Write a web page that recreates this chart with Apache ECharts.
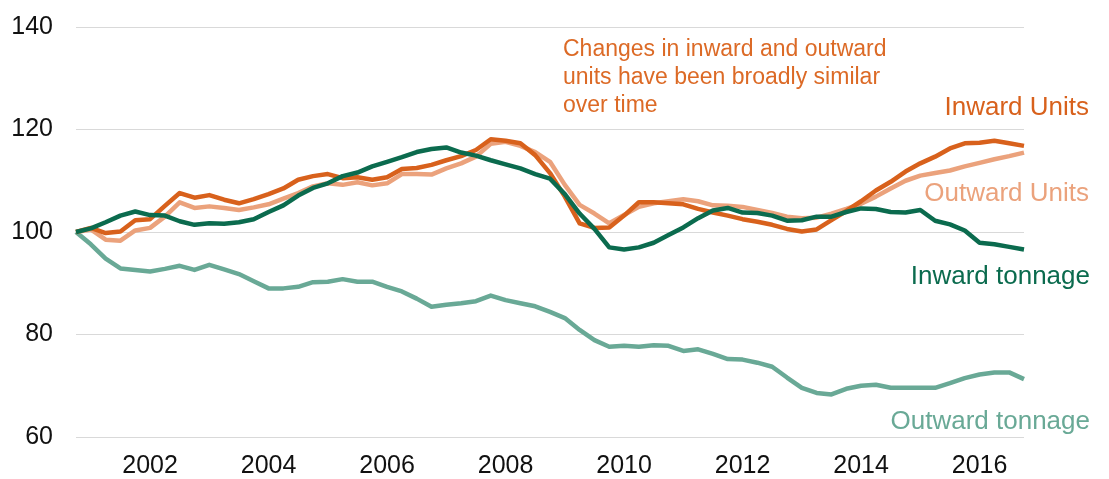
<!DOCTYPE html>
<html>
<head>
<meta charset="utf-8">
<script src="https://cdn.jsdelivr.net/npm/echarts@6/dist/echarts.min.js"></script>
<style>html,body{margin:0;padding:0;background:#fff;}#c{width:1109px;height:479px;}</style>
</head>
<body>
<div id="c"></div>
<script>
// Quarterly categories, 2000 Q4 .. 2016 Q4
var categories = [];
(function(){
  categories.push('2000 Q4');
  for (var y = 2001; y <= 2016; y++) for (var q = 1; q <= 4; q++) categories.push(y + ' Q' + q);
})();
var tickLabels = ['2002','2004','2006','2008','2010','2012','2014','2016'];
var yTicks = [60, 80, 100, 120, 140];

var inwardUnits = [100,100.8,99.8,100.1,102.3,102.5,105.1,107.6,106.7,107.2,106.3,105.6,106.4,107.4,108.5,110.2,110.9,111.3,110.5,110.7,110.2,110.7,112.3,112.5,113.1,114.0,114.8,116.0,118.1,117.8,117.3,115.0,111.5,106.9,101.7,100.8,100.9,103.2,105.8,105.8,105.6,105.4,104.5,103.8,103.2,102.5,102.0,101.4,100.6,100.1,100.5,102.3,104.1,106.0,108.1,109.8,111.8,113.4,114.7,116.3,117.3,117.4,117.8,117.3,116.8];
var outwardUnits = [100,100.5,98.5,98.3,100.3,100.8,103.0,105.8,104.7,105.0,104.7,104.3,104.8,105.4,106.5,107.6,108.9,109.5,109.2,109.7,109.1,109.5,111.3,111.3,111.2,112.4,113.4,114.7,117.2,117.6,116.8,115.6,113.7,109.2,105.3,103.6,101.7,103.3,104.9,105.6,106.0,106.4,106.0,105.2,105.1,104.9,104.3,103.7,103.0,102.7,102.8,103.6,104.5,105.5,106.9,108.5,110.0,111.0,111.5,112.0,112.8,113.5,114.2,114.8,115.5];
var inwardTonnage = [100,100.7,101.9,103.2,104.0,103.3,103.2,102.1,101.4,101.7,101.6,101.9,102.5,103.9,105.2,107.1,108.6,109.5,110.9,111.6,112.8,113.7,114.6,115.6,116.2,116.5,115.5,114.9,114.0,113.2,112.4,111.3,110.4,107.4,103.6,100.6,97.0,96.6,97.0,97.9,99.4,100.9,102.7,104.2,104.7,103.8,103.7,103.2,102.2,102.3,103.0,103.0,103.9,104.6,104.5,103.9,103.8,104.3,102.2,101.5,100.3,97.9,97.6,97.1,96.6];
var outwardTonnage = [100,97.6,94.8,92.9,92.6,92.3,92.8,93.4,92.6,93.6,92.7,91.8,90.4,89.0,89.0,89.3,90.2,90.3,90.8,90.3,90.3,89.3,88.4,87.0,85.4,85.8,86.1,86.5,87.6,86.7,86.1,85.5,84.4,83.2,80.9,78.9,77.6,77.8,77.6,77.9,77.8,76.8,77.1,76.2,75.2,75.1,74.5,73.7,71.6,69.6,68.6,68.3,69.4,70.0,70.2,69.6,69.6,69.6,69.6,70.5,71.5,72.2,72.6,72.6,71.3];

var C_IU = '#D8611C', C_OU = '#EBA27C', C_IT = '#0B6B4E', C_OT = '#69A996';
var FONT = '"Liberation Sans", Arial, sans-serif';

var chart = echarts.init(document.getElementById('c'), null, {renderer: 'canvas'});
function line(name, data, color) {
  return {name: name, type: 'line', data: data, symbol: 'none', smooth: false,
    lineStyle: {color: color, width: 4.5, join: 'round'}, itemStyle: {color: color}, animation: false};
}
chart.setOption({
  animation: false,
  backgroundColor: '#fff',
  grid: {left: 76, right: 85, top: 27, bottom: 42},
  xAxis: {
    type: 'category', data: categories, boundaryGap: false,
    axisLine: {show: false}, axisTick: {show: false}, splitLine: {show: false},
    axisLabel: {
      interval: function (i, v) { return /Q1$/.test(v) && tickLabels.indexOf(v.slice(0,4)) >= 0; },
      formatter: function (v) { return v.slice(0,4); },
      color: '#111', fontSize: 25, fontFamily: FONT, margin: 17
    }
  },
  yAxis: {
    type: 'value', min: yTicks[0], max: yTicks[yTicks.length-1], interval: 20,
    axisLine: {show: false}, axisTick: {show: false},
    splitLine: {lineStyle: {color: '#D9D9D9', width: 1}},
    axisLabel: {color: '#111', fontSize: 25, fontFamily: FONT, margin: 23}
  },
  series: [
    line('Outward tonnage', outwardTonnage, C_OT),
    line('Outward Units', outwardUnits, C_OU),
    line('Inward Units', inwardUnits, C_IU),
    line('Inward tonnage', inwardTonnage, C_IT)
  ],
  graphic: [
    {type: 'text', left: 563, top: 36, style: {text: 'Changes in inward and outward\nunits have been broadly similar\nover time', fill: '#DC6A26', font: '23px ' + FONT, lineHeight: 28}},
    {type: 'text', x: 1089, y: 108, style: {text: 'Inward Units', fill: C_IU, font: '26px ' + FONT, align: 'right', verticalAlign: 'middle'}},
    {type: 'text', x: 1089, y: 194, style: {text: 'Outward Units', fill: C_OU, font: '26px ' + FONT, align: 'right', verticalAlign: 'middle'}},
    {type: 'text', x: 1090, y: 277, style: {text: 'Inward tonnage', fill: C_IT, font: '26px ' + FONT, align: 'right', verticalAlign: 'middle'}},
    {type: 'text', x: 1090, y: 422, style: {text: 'Outward tonnage', fill: C_OT, font: '26px ' + FONT, align: 'right', verticalAlign: 'middle'}}
  ]
});
</script>
</body>
</html>
